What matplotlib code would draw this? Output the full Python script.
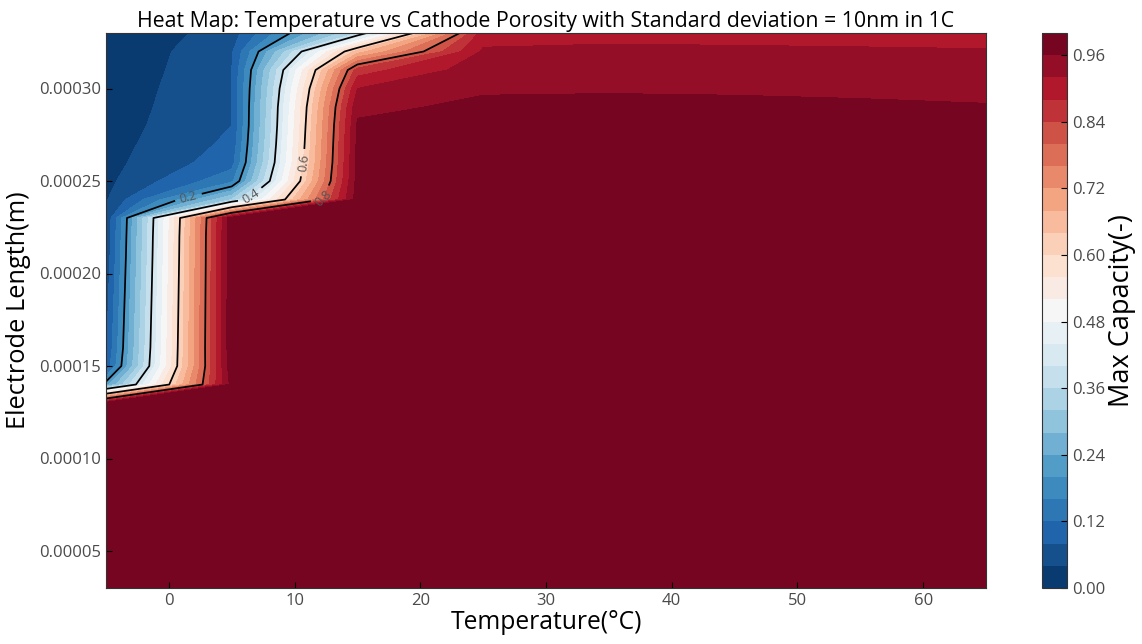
import numpy as np
import matplotlib
matplotlib.use("Agg")
import matplotlib.pyplot as plt
from matplotlib.ticker import FormatStrFormatter, MultipleLocator

plt.rcParams['font.family'] = ['Open Sans', 'DejaVu Sans']

# Simulation grid: temperature (degC) and cathode electrode length (m)
temperature = [-5, 5, 15, 25, 35, 45, 55, 65]
electrode_length = [3.0e-5, 4.0e-5, 5.0e-5, 6.0e-5, 7.0e-5, 8.0e-5, 9.0e-5,
                    1.0e-4, 1.1e-4, 1.2e-4, 1.3e-4, 1.4e-4, 1.5e-4, 1.6e-4,
                    1.7e-4, 1.8e-4, 1.9e-4, 2.0e-4, 2.1e-4, 2.2e-4, 2.3e-4,
                    2.4e-4, 2.5e-4, 2.6e-4, 2.7e-4, 2.8e-4, 2.9e-4, 3.0e-4,
                    3.1e-4, 3.2e-4, 3.3e-4]

# Max capacity, one row per electrode length (bottom to top), one column per temperature
max_capacity = [
    [0.985, 0.990, 0.990, 0.990, 0.990, 0.990, 0.990, 0.990],  # 30 um
    [0.985, 0.990, 0.990, 0.990, 0.990, 0.990, 0.990, 0.990],  # 40 um
    [0.985, 0.990, 0.990, 0.990, 0.990, 0.990, 0.990, 0.990],  # 50 um
    [0.985, 0.990, 0.990, 0.990, 0.990, 0.990, 0.990, 0.990],  # 60 um
    [0.985, 0.990, 0.990, 0.990, 0.990, 0.990, 0.990, 0.990],  # 70 um
    [0.985, 0.990, 0.990, 0.990, 0.990, 0.990, 0.990, 0.990],  # 80 um
    [0.985, 0.990, 0.990, 0.990, 0.990, 0.990, 0.990, 0.990],  # 90 um
    [0.985, 0.990, 0.990, 0.990, 0.990, 0.990, 0.990, 0.990],  # 100 um
    [0.985, 0.990, 0.990, 0.990, 0.990, 0.990, 0.990, 0.990],  # 110 um
    [0.985, 0.990, 0.990, 0.990, 0.990, 0.990, 0.990, 0.990],  # 120 um
    [0.985, 0.990, 0.990, 0.990, 0.990, 0.990, 0.990, 0.990],  # 130 um
    [0.220, 0.975, 0.990, 0.990, 0.990, 0.990, 0.990, 0.990],  # 140 um
    [0.090, 0.990, 0.990, 0.990, 0.990, 0.990, 0.990, 0.990],  # 150 um
    [0.075, 0.995, 0.990, 0.990, 0.990, 0.990, 0.990, 0.990],  # 160 um
    [0.070, 0.995, 0.990, 0.990, 0.990, 0.990, 0.990, 0.990],  # 170 um
    [0.065, 0.995, 0.990, 0.990, 0.990, 0.990, 0.990, 0.990],  # 180 um
    [0.060, 0.995, 0.990, 0.990, 0.990, 0.990, 0.990, 0.990],  # 190 um
    [0.055, 0.995, 0.990, 0.990, 0.990, 0.990, 0.990, 0.990],  # 200 um
    [0.050, 0.995, 0.990, 0.990, 0.990, 0.990, 0.990, 0.990],  # 210 um
    [0.046, 0.995, 0.988, 0.990, 0.990, 0.990, 0.990, 0.990],  # 220 um
    [0.042, 0.990, 0.985, 0.988, 0.988, 0.988, 0.988, 0.988],  # 230 um
    [0.036, 0.320, 0.980, 0.986, 0.987, 0.986, 0.985, 0.984],  # 240 um
    [0.030, 0.150, 0.976, 0.984, 0.985, 0.984, 0.983, 0.982],  # 250 um
    [0.027, 0.103, 0.973, 0.982, 0.983, 0.982, 0.981, 0.980],  # 260 um
    [0.024, 0.089, 0.970, 0.979, 0.980, 0.979, 0.978, 0.977],  # 270 um
    [0.021, 0.080, 0.965, 0.975, 0.976, 0.975, 0.974, 0.972],  # 280 um
    [0.016, 0.080, 0.952, 0.967, 0.968, 0.967, 0.965, 0.962],  # 290 um
    [0.011, 0.080, 0.920, 0.956, 0.957, 0.956, 0.954, 0.952],  # 300 um
    [0.004, 0.080, 0.860, 0.944, 0.946, 0.945, 0.943, 0.941],  # 310 um
    [0.002, 0.075, 0.660, 0.926, 0.928, 0.927, 0.925, 0.923],  # 320 um
    [0.000, 0.060, 0.360, 0.900, 0.908, 0.906, 0.905, 0.903],  # 330 um
]

fill_levels = np.linspace(0.0, 1.0, 26)
line_levels = [0.2, 0.4, 0.6, 0.8]
cbar_ticks = [0.00, 0.12, 0.24, 0.36, 0.48, 0.60, 0.72, 0.84, 0.96]

T, L = np.meshgrid(temperature, electrode_length)
Z = np.array(max_capacity)

fig = plt.figure(figsize=(11.42, 6.44), dpi=100)
ax = fig.add_axes([106 / 1142, 1 - 588 / 644, 880 / 1142, 555 / 644])
cax = fig.add_axes([1042 / 1142, 1 - 588 / 644, 25 / 1142, 555 / 644])

cf = ax.contourf(T, L, Z, levels=fill_levels, cmap='RdBu_r')
cs = ax.contour(T, L, Z, levels=line_levels, colors='k', linewidths=1.25)
ax.clabel(cs, fmt='%.1f', fontsize=9, colors='#555555', inline=True,
          manual=[(1.6, 2.40e-4), (6.7, 2.40e-4), (10.6, 2.60e-4), (12.2, 2.41e-4)])

ax.set_title('Heat Map: Temperature vs Cathode Porosity with Standard deviation = 10nm in 1C',
             fontsize=15.3, pad=4)
ax.set_xlabel('Temperature(°C)', fontsize=17.7, labelpad=1)
ax.set_ylabel('Electrode Length(m)', fontsize=18.3, labelpad=6)
ax.yaxis.set_major_locator(MultipleLocator(5e-5))
ax.yaxis.set_major_formatter(FormatStrFormatter('%.5f'))
ax.xaxis.set_major_locator(MultipleLocator(10))
ax.tick_params(direction='in', labelsize=12, labelcolor='#4a4a4a', length=4, width=0.8)
for s in ax.spines.values():
    s.set_color('#333333')
    s.set_linewidth(0.8)

cb = fig.colorbar(cf, cax=cax, ticks=cbar_ticks)
cb.ax.yaxis.set_major_formatter(FormatStrFormatter('%.2f'))
cb.ax.tick_params(direction='in', labelsize=12, labelcolor='#4a4a4a', length=4, width=0.8)
cb.set_label('Max Capacity(-)', fontsize=19.5, labelpad=2)
cb.outline.set_edgecolor('#333333')
cb.outline.set_linewidth(0.8)

fig.savefig('out.png', dpi=100)
